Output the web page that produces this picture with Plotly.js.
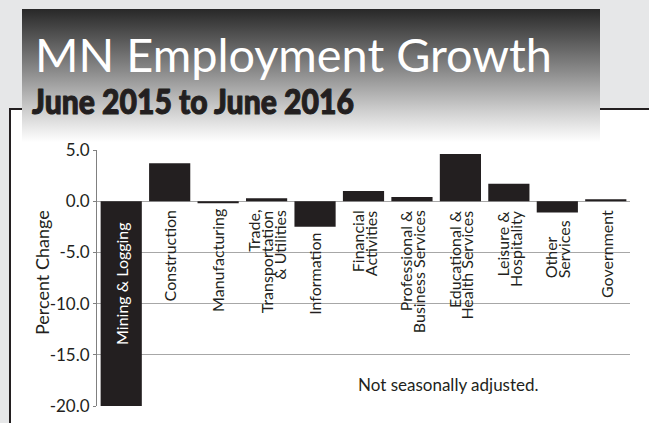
<!DOCTYPE html>
<html>
<head>
<meta charset="utf-8">
<script src="https://cdn.plot.ly/plotly-3.0.1.min.js"></script>
<style>
  html, body { margin: 0; padding: 0; width: 649px; height: 423px; overflow: hidden; background: #e6e7e8; }
  /* white chart panel with a dark rule along its top and left edges */
  #panel { position: absolute; left: 9px; top: 108px; width: 640px; height: 315px; background: #ffffff;
           border-top: 2px solid #231f20; border-left: 2px solid #231f20; box-sizing: border-box; }
  /* dark-to-white heading band */
  #banner { position: absolute; left: 22px; top: 9px; width: 578px; height: 133px;
            background: linear-gradient(to bottom, #282828 0%, #898989 46%, #d2d2d2 78%, #ffffff 100%); }
  #chart { position: absolute; left: 0; top: 0; width: 649px; height: 423px; }
</style>
</head>
<body>
<div id="panel"></div>
<div id="banner"></div>
<div id="chart"></div>
<script>
// Over-the-year percent change in employment by industry, Minnesota
const categories = [
  "Mining & Logging",
  "Construction",
  "Manufacturing",
  "Trade,<br>Transportation<br>& Utilities",
  "Information",
  "Financial<br>Activities",
  "Professional &<br>Business Services",
  "Educational &<br>Health Services",
  "Leisure &<br>Hospitality",
  "Other<br>Services",
  "Government"
];
const percentChange = [-20.0, 3.7, -0.2, 0.3, -2.5, 1.0, 0.4, 4.6, 1.7, -1.1, 0.2];
const tickValues = [5, 0, -5, -10, -15, -20];
const tickLabels = ["5.0", "0.0", "-5.0", "-10.0", "-15.0", "-20.0"];
const titleText = "MN Employment Growth";
const subtitleText = "June 2015 to June 2016";
const yAxisTitle = "Percent Change";
const noteText = "Not seasonally adjusted.";

// page geometry (pixels)
const W = 649, H = 423;
const M = { l: 97, r: 19, t: 150, b: 17 };
const plotW = W - M.l - M.r, plotH = H - M.t - M.b;
const px2x = px => (px - M.l) / plotW;
const px2y = py => (H - M.b - py) / plotH;

const FONT = 'Lato, "Open Sans", "Noto Sans", sans-serif';
const INK = '#231f20';
const LINE_STEP = 13;   // spacing between stacked label lines

// category labels: rotated, stacked lines, hung just below the bar or baseline
const annotations = [];
categories.forEach((cat, i) => {
  const v = percentChange[i];
  const lines = cat.split('<br>');
  const insideBar = v <= -10;          // tall negative bar carries its label inside
  const bottomAligned = cat.indexOf('Other') === 0;
  lines.forEach((line, j) => {
    const a = {
      x: cat, xref: 'x', yref: 'y',
      text: line, showarrow: false, textangle: -90,
      font: { family: FONT, size: 16, color: insideBar ? '#ffffff' : INK },
      xanchor: 'center',
      xshift: (j - (lines.length - 1) / 2) * LINE_STEP,
      borderpad: 0
    };
    if (insideBar) {
      a.y = 0; a.yanchor = 'top'; a.yshift = -20;
    } else if (bottomAligned) {
      a.y = Math.min(0, v); a.yanchor = 'bottom'; a.yshift = -67;
    } else {
      a.y = Math.min(0, v); a.yanchor = 'top'; a.yshift = v < 0 ? -5 : -8;
    }
    annotations.push(a);
  });
});

// headings, axis title and footnote
const titleIndex = annotations.length;
annotations.push(
  { xref: 'paper', yref: 'paper', x: px2x(33), y: px2y(54), xanchor: 'left', yanchor: 'middle',
    text: titleText, showarrow: false, font: { family: FONT, size: 46, color: '#ffffff' } },
  { xref: 'paper', yref: 'paper', x: px2x(30), y: px2y(100), xanchor: 'left', yanchor: 'middle',
    text: subtitleText, showarrow: false,
    font: { family: FONT, size: 35, weight: 900, color: INK } },
  { xref: 'paper', yref: 'paper', x: px2x(42), y: px2y(273), xanchor: 'center', yanchor: 'middle',
    text: yAxisTitle, showarrow: false, textangle: -90, font: { family: FONT, size: 18, color: INK } },
  { xref: 'paper', yref: 'paper', x: px2x(448), y: px2y(384), xanchor: 'center', yanchor: 'middle',
    text: noteText, showarrow: false, font: { family: FONT, size: 17, color: INK } }
);
// target widths of the two heading lines, plus extra weight for the subheading
const headingWidths = [
  { idx: titleIndex, w: 517, stroke: 0 },
  { idx: titleIndex + 1, w: 322, stroke: 1.1 }
];

const trace = {
  type: 'bar',
  x: categories,
  y: percentChange,
  marker: { color: INK, line: { width: 0 } },
  hoverinfo: 'x+y'
};

const layout = {
  width: W, height: H,
  margin: M,
  paper_bgcolor: 'rgba(0,0,0,0)',
  plot_bgcolor: '#ffffff',
  showlegend: false,
  bargap: 0.15,
  font: { family: FONT, color: INK },
  xaxis: {
    type: 'category',
    showticklabels: false, showgrid: false, zeroline: false, showline: false, ticks: ''
  },
  yaxis: {
    range: [-20, 5],
    tickvals: tickValues, ticktext: tickLabels,
    tickfont: { family: FONT, size: 17, color: INK },
    ticks: 'outside', ticklen: 3, tickcolor: '#808080', tickwidth: 1,
    showline: true, linecolor: '#808080', linewidth: 1,
    showgrid: true, gridcolor: '#a7a7a7', gridwidth: 1,
    zeroline: true, zerolinecolor: '#a7a7a7', zerolinewidth: 1
  },
  annotations: annotations
};

Plotly.newPlot('chart', [trace], layout, { displayModeBar: false, staticPlot: true }).then(gd => {
  // the heading face is a condensed cut: squeeze the lines horizontally to their set widths
  headingWidths.forEach(h => {
    const t = gd.querySelector('.annotation[data-index="' + h.idx + '"] text');
    if (!t) return;
    const bb = t.getBBox();
    const s = h.w / bb.width;
    t.setAttribute('transform',
      'translate(' + bb.x + ',0) scale(' + s + ',1) translate(' + (-bb.x) + ',0)');
    if (h.stroke) {
      t.style.stroke = INK;
      t.style.strokeWidth = h.stroke + 'px';
      t.style.strokeLinejoin = 'round';
    }
  });
});
</script>
</body>
</html>
